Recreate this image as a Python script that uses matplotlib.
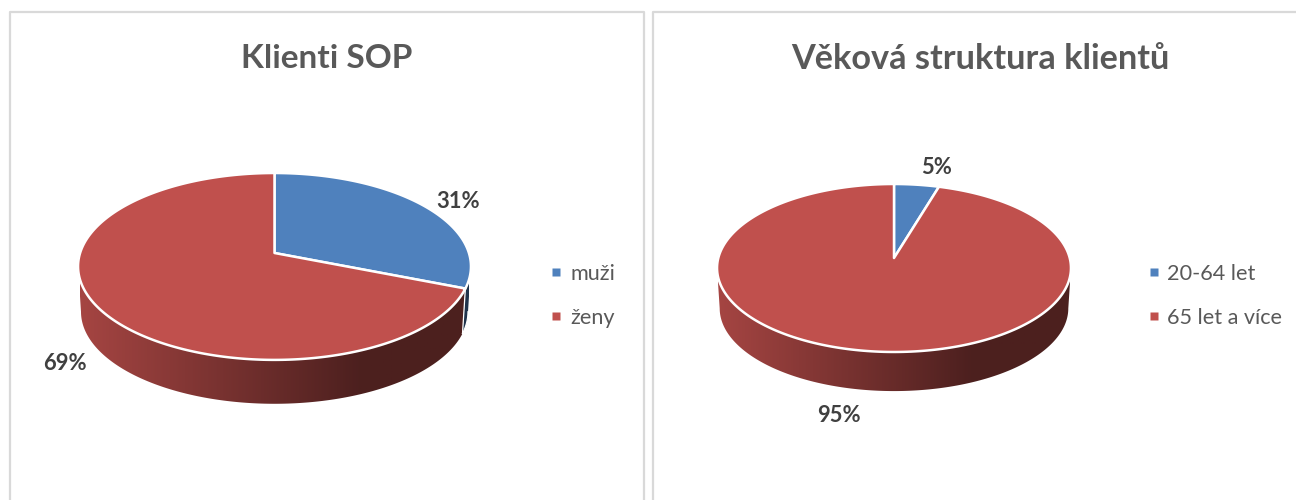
import numpy as np
import matplotlib
matplotlib.use("Agg")
import matplotlib.pyplot as plt
from matplotlib.colors import LinearSegmentedColormap, to_rgb
from matplotlib.patches import Polygon

plt.rcParams["font.family"] = ["Lato", "DejaVu Sans"]

# hodnoty
sop_labels = ["muži", "ženy"]
sop_shares = [31, 69]
age_labels = ["20-64 let", "65 let a více"]
age_shares = [4.6, 95.4]
colors = ["#4f81bd", "#c0504d"]

TEXT = "#595959"
LABEL = "#404040"
BORDER = "#d9d9d9"


def project(t, geo, scale=1.0, drop=0.0):
    # kruh v perspektive, t se meri od vrcholu po smeru hodin
    x, y = np.sin(t), np.cos(t)
    w = 1 + geo["k"] * y
    return (geo["cx"] + scale * geo["a"] * x / w,
            geo["cy"] - scale * geo["b"] * y / w + drop)


def draw_pie(ax, shares, geo):
    edges = 2 * np.pi * np.cumsum([0] + list(shares)) / sum(shares)
    front0 = np.arccos(-geo["k"])
    front1 = 2 * np.pi - front0
    x0 = geo["cx"] - geo["a"]
    x1 = geo["cx"] + geo["a"]

    # bocni stena s prechodem
    for i, color in enumerate(colors):
        t0, t1 = max(edges[i], front0), min(edges[i + 1], front1)
        if t1 <= t0:
            continue
        t = np.linspace(t0, t1, 200)
        tx, ty = project(t, geo)
        bx, by = project(t[::-1], geo, 0.985, geo["drop"])
        wall = Polygon(np.c_[np.r_[tx, bx], np.r_[ty, by]], closed=True,
                       facecolor="none", edgecolor="none")
        ax.add_patch(wall)
        rgb = np.array(to_rgb(color))
        cmap = LinearSegmentedColormap.from_list(
            "wall", [(0, rgb * 0.86), (0.72, rgb * 0.4), (1, rgb * 0.4)])
        grad = np.linspace(0, 1, 256).reshape(1, -1)
        im = ax.imshow(grad, cmap=cmap, extent=(x0, x1, 420, 150),
                       aspect="auto", zorder=2)
        im.set_clip_path(wall)
        if i == 0:
            ax.plot(bx, by, color="white", lw=0.9, zorder=3)
            ax.plot([bx[0], tx[-1]], [by[0], ty[-1]], color="white", lw=0.9, zorder=3)

    # horni plocha
    for i, color in enumerate(colors):
        t = np.linspace(edges[i], edges[i + 1], 300)
        px, py = project(t, geo)
        pts = np.c_[np.r_[geo["cx"], px], np.r_[geo["cy"], py]]
        ax.add_patch(Polygon(pts, closed=True, facecolor=color, edgecolor="white",
                             lw=1.8, joinstyle="round", zorder=4))


def draw_legend(ax, labels, mx, tx):
    for label, color, y in zip(labels, colors, (272, 316)):
        ax.plot([mx], [y], marker="s", ms=5.2, mfc=color, mec="none", zorder=5)
        ax.text(tx, y + 1.5, label, fontsize=15.6, color=TEXT, va="center", ha="left")


fig = plt.figure(figsize=(12.96, 5), dpi=100)
ax = fig.add_axes([0, 0, 1, 1])

draw_pie(ax, sop_shares, dict(cx=274.5, cy=253, a=194.4, b=91.5, k=0.144, drop=45.5))
draw_pie(ax, age_shares, dict(cx=894, cy=258, a=175.7, b=82.8, k=0.119, drop=40.5))

ax.text(326.5, 59, "Klienti SOP", fontsize=24, fontweight="bold", color=TEXT,
        ha="center", va="center")
ax.text(980.5, 59, "Věková struktura klientů", fontsize=24.7, fontweight="bold",
        color=TEXT, ha="center", va="center")

for x, y, s in [(458, 201, "31%"), (65, 364, "69%"), (936.5, 167, "5%"), (839, 416, "95%")]:
    ax.text(x, y, s, fontsize=15.8, fontweight="bold", color=LABEL, ha="center", va="center")

draw_legend(ax, sop_labels, 556, 570.5)
draw_legend(ax, age_labels, 1154, 1167)

# ramecky
ax.plot([10, 10, 643.5, 643.5], [500, 12, 12, 500], color=BORDER, lw=1.6, zorder=1)
ax.plot([652.5, 652.5, 1296], [500, 12, 12], color=BORDER, lw=1.6, zorder=1)

ax.set_xlim(0, 1296)
ax.set_ylim(500, 0)
ax.axis("off")
fig.savefig("out.png", dpi=100, facecolor="white")
